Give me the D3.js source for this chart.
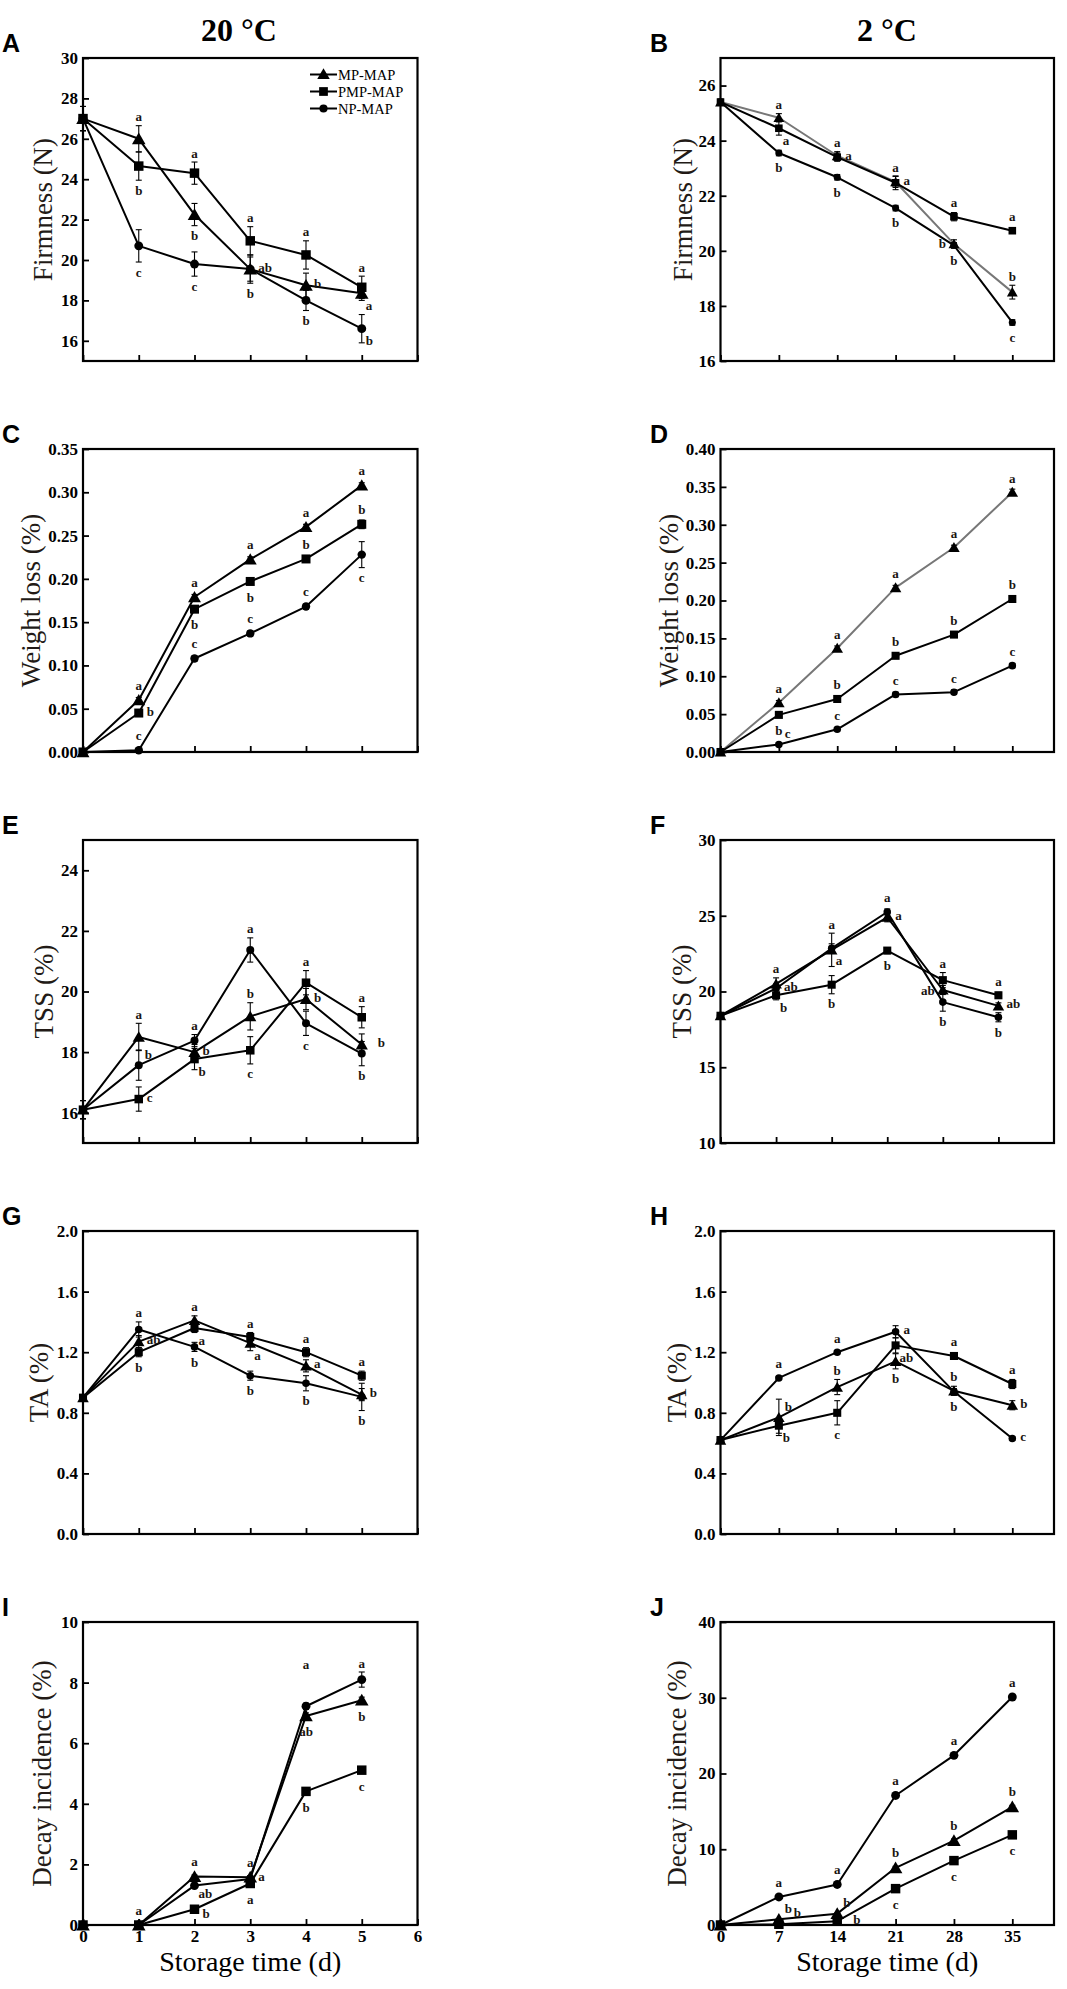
<!DOCTYPE html>
<html>
<head>
<meta charset="utf-8">
<script src="https://cdn.jsdelivr.net/npm/d3@7"></script>
<style>
body { margin: 0; background: #fff; }
svg { display: block; }
</style>
</head>
<body>
<script>
// ---------- DATA ----------
var seriesNames = ["MP-MAP", "PMP-MAP", "NP-MAP"];
var days20 = [0, 1, 2, 3, 4, 5];
var days2 = [0, 7, 14, 21, 28, 35];

// A firmness 20 C
var firm20MP  = [27.0, 26.0, 22.25, 19.55, 18.75, 18.35];
var firm20PMP = [27.0, 24.65, 24.3, 20.95, 20.25, 18.65];
var firm20NP  = [27.0, 20.7, 19.8, 19.55, 18.0, 16.6];
var firm20Err = [[0.6, 0.65, 0.55, 0.6, 0.6, 0.35], [0.6, 0.7, 0.55, 0.7, 0.7, 0.55], [0.6, 0.8, 0.6, 0.7, 0.5, 0.7]];
var firm20Sig = [["", "a", "b", "ab", "b", "a"], ["", "b", "a", "a", "a", "a"], ["", "c", "c", "b", "b", "b"]];

// B firmness 2 C
var firm2MP  = [25.4, 24.83, 23.45, 22.5, 20.25, 18.5];
var firm2PMP = [25.4, 24.45, 23.4, 22.47, 21.24, 20.73];
var firm2NP  = [25.4, 23.55, 22.67, 21.55, 20.2, 17.4];
var firm2Err = [[0.1, 0.15, 0.15, 0.2, 0.15, 0.25], [0.1, 0.25, 0.15, 0.25, 0.15, 0.1], [0.1, 0.1, 0.1, 0.1, 0.1, 0.1]];
var firm2Sig = [["", "a", "a", "a", "b", "b"], ["", "a", "a", "a", "a", "a"], ["", "b", "b", "b", "b", "c"]];

// C weight loss 20 C
var wl20MP  = [0, 0.06, 0.179, 0.2225, 0.26, 0.308];
var wl20PMP = [0, 0.045, 0.165, 0.197, 0.223, 0.263];
var wl20NP  = [0, 0.002, 0.108, 0.137, 0.168, 0.228];
var wl20Err = [[0, 0.003, 0.003, 0.003, 0.003, 0.003], [0, 0.003, 0.003, 0.003, 0.003, 0.005], [0, 0.002, 0.003, 0.003, 0.003, 0.015]];
var wl20Sig = [["", "a", "a", "a", "a", "a"], ["", "b", "b", "b", "b", "b"], ["", "c", "c", "c", "c", "c"]];

// D weight loss 2 C
var wl2MP  = [0, 0.065, 0.137, 0.217, 0.27, 0.343];
var wl2PMP = [0, 0.049, 0.07, 0.127, 0.155, 0.202];
var wl2NP  = [0, 0.01, 0.03, 0.076, 0.079, 0.114];
var wl2Err = [[0, 0.003, 0.003, 0.003, 0.003, 0.004], [0, 0.003, 0.003, 0.003, 0.003, 0.003], [0, 0.002, 0.002, 0.003, 0.003, 0.003]];
var wl2Sig = [["", "a", "a", "a", "a", "a"], ["", "b", "b", "b", "b", "b"], ["", "c", "c", "c", "c", "c"]];

// E TSS 20 C
var tss20MP  = [16.1, 18.5, 18.0, 19.18, 19.75, 18.25];
var tss20PMP = [16.1, 16.45, 17.77, 18.06, 20.29, 19.15];
var tss20NP  = [16.1, 17.57, 18.38, 21.37, 18.95, 17.95];
var tss20Err = [[0.3, 0.45, 0.25, 0.45, 0.35, 0.35], [0.3, 0.4, 0.35, 0.45, 0.4, 0.35], [0.3, 0.5, 0.2, 0.4, 0.4, 0.4]];
var tss20Sig = [["", "a", "b", "b", "b", "b"], ["", "c", "b", "c", "a", "a"], ["", "b", "a", "a", "c", "b"]];

// F TSS 2 C
var tss2MP  = [18.4, 20.5, 22.75, 24.9, 20.1, 19.05];
var tss2PMP = [18.4, 19.75, 20.45, 22.7, 20.75, 19.75];
var tss2NP  = [18.4, 20.2, 22.85, 25.25, 19.3, 18.3];
var tss2Err = [[0.15, 0.4, 1.1, 0.3, 0.3, 0.2], [0.15, 0.3, 0.6, 0.2, 0.5, 0.2], [0.15, 0.3, 0.3, 0.2, 0.6, 0.3]];
var tss2Sig = [["", "a", "a", "a", "ab", "ab"], ["", "b", "b", "b", "a", "a"], ["", "ab", "a", "a", "b", "b"]];

// G TA 20 C
var ta20MP  = [0.9, 1.27, 1.41, 1.26, 1.11, 0.92];
var ta20PMP = [0.9, 1.2, 1.36, 1.3, 1.2, 1.045];
var ta20NP  = [0.9, 1.35, 1.235, 1.045, 0.995, 0.905];
var ta20Err = [[0.02, 0.04, 0.03, 0.05, 0.04, 0.04], [0.02, 0.03, 0.03, 0.03, 0.03, 0.03], [0.02, 0.05, 0.03, 0.03, 0.05, 0.09]];
var ta20Sig = [["", "ab", "a", "a", "a", "b"], ["", "b", "a", "a", "a", "a"], ["", "a", "b", "b", "b", "b"]];

// H TA 2 C
var ta2MP  = [0.62, 0.77, 0.97, 1.14, 0.945, 0.85];
var ta2PMP = [0.62, 0.715, 0.8, 1.245, 1.175, 0.99];
var ta2NP  = [0.62, 1.03, 1.2, 1.335, 0.94, 0.63];
var ta2Err = [[0.02, 0.12, 0.05, 0.05, 0.03, 0.03], [0.02, 0.05, 0.08, 0.05, 0.02, 0.03], [0.02, 0.01, 0.01, 0.04, 0.02, 0.01]];
var ta2Sig = [["", "b", "b", "b", "b", "b"], ["", "b", "c", "ab", "a", "a"], ["", "a", "a", "a", "b", "c"]];

// I decay 20 C
var dec20MP  = [0, 0, 1.6, 1.58, 6.9, 7.42];
var dec20PMP = [0, 0, 0.52, 1.37, 4.41, 5.11];
var dec20NP  = [0, 0, 1.3, 1.52, 7.22, 8.1];
var dec20Err = [[0, 0, 0.05, 0.05, 0.1, 0.1], [0, 0, 0.05, 0.05, 0.1, 0.1], [0, 0, 0.05, 0.05, 0.1, 0.25]];
var dec20Sig = [["", "a", "a", "a", "ab", "b"], ["", "", "b", "a", "b", "c"], ["", "", "ab", "a", "a", "a"]];

// J decay 2 C
var dec2MP  = [0, 0.75, 1.5, 7.55, 11.15, 15.6];
var dec2PMP = [0, 0.1, 0.5, 4.8, 8.5, 11.9];
var dec2NP  = [0, 3.7, 5.35, 17.1, 22.4, 30.1];
var dec2Err = [[0, 0.1, 0.1, 0.2, 0.2, 0.2], [0, 0.1, 0.1, 0.2, 0.2, 0.2], [0, 0.2, 0.2, 0.2, 0.2, 0.3]];
var dec2Sig = [["", "b", "b", "b", "b", "b"], ["", "b", "b", "c", "c", "c"], ["", "a", "a", "a", "a", "a"]];

// tick labels
var ticksFirm20 = [16, 18, 20, 22, 24, 26, 28, 30];
var ticksFirm2 = [16, 18, 20, 22, 24, 26];
var ticksWl20 = [0, 0.05, 0.10, 0.15, 0.20, 0.25, 0.30, 0.35];
var ticksWl2 = [0, 0.05, 0.10, 0.15, 0.20, 0.25, 0.30, 0.35, 0.40];
var ticksTss20 = [16, 18, 20, 22, 24];
var ticksTss2 = [10, 15, 20, 25, 30];
var ticksTa = [0, 0.4, 0.8, 1.2, 1.6, 2.0];
var ticksDec20 = [0, 2, 4, 6, 8, 10];
var ticksDec2 = [0, 10, 20, 30, 40];
var xTicks20 = [0, 1, 2, 3, 4, 5, 6];
var xTicks2 = [0, 7, 14, 21, 28, 35];

// ---------- LAYOUT ----------
var W = 1067, H = 1989;
var colX = [[83, 417.5], [720.5, 1054]];
var rowTop0 = 58, rowStep = 391, panelH = 303;

// where each significance letter sits next to its point
var placeA = [["", "u", "d", "r", "r", "dr"], ["", "d", "u", "u", "u", "u"], ["", "d", "d", "d", "d", "dr"]];
var placeB = [["", "u", "u", "u", "l", "u"], ["", "dr", "r", "r", "u", "u"], ["", "d", "d", "d", "d", "d"]];
var placeC = [["", "u", "u", "u", "u", "u"], ["", "r", "d", "d", "u", "u"], ["", "u", "u", "u", "u", "d"]];
var placeD = [["", "u", "u", "u", "u", "u"], ["", "d", "u", "u", "u", "u"], ["", "ur", "u", "u", "u", "u"]];
var placeE = [["", "u", "r", "u", "r", "rr"], ["", "r", "dr", "d", "u", "u"], ["", "ur", "u", "u", "d", "d"]];
var placeF = [["", "u", "u", "r", "l", "r"], ["", "dr", "d", "d", "u", "u"], ["", "r", "dr", "u", "d", "d"]];
var placeG = [["", "r", "u", "dr", "r", "r"], ["", "d", "dr", "u", "u", "u"], ["", "u", "d", "d", "d", "d"]];
var placeH = [["", "ur", "u", "d", "u", "r"], ["", "dr", "d", "dr", "u", "u"], ["", "u", "u", "r", "d", "r"]];
var placeI = [["", "u", "u", "u", "d", "d"], ["", "", "rd", "d", "d", "d"], ["", "", "rs", "r", "uu", "u"]];
var placeJ = [["", "ur", "ur", "u", "u", "u"], ["", "urr", "rr", "d", "d", "d"], ["", "u", "u", "u", "u", "u"]];

var panels = [
  { id: "A", col: 0, row: 0, xs: days20, xDom: [0, 6], xTicks: xTicks20, yDom: [15, 30], yTicks: ticksFirm20, fmt: d3.format("d"),
    ylab: "Firmness (N)", labX: 43, vals: [firm20MP, firm20PMP, firm20NP], err: firm20Err, sig: firm20Sig, place: placeA, ms: 1, legend: true },
  { id: "B", col: 1, row: 0, xs: days2, xDom: [0, 40], xTicks: xTicks2, yDom: [16, 27], yTicks: ticksFirm2, fmt: d3.format("d"),
    ylab: "Firmness (N)", labX: 683, vals: [firm2MP, firm2PMP, firm2NP], err: firm2Err, sig: firm2Sig, place: placeB, ms: 0.8, grayMP: true },
  { id: "C", col: 0, row: 1, xs: days20, xDom: [0, 6], xTicks: xTicks20, yDom: [0, 0.35], yTicks: ticksWl20, fmt: d3.format(".2f"),
    ylab: "Weight loss (%)", labX: 31, vals: [wl20MP, wl20PMP, wl20NP], err: wl20Err, sig: wl20Sig, place: placeC, ms: 0.95 },
  { id: "D", col: 1, row: 1, xs: days2, xDom: [0, 40], xTicks: xTicks2, yDom: [0, 0.40], yTicks: ticksWl2, fmt: d3.format(".2f"),
    ylab: "Weight loss (%)", labX: 669, vals: [wl2MP, wl2PMP, wl2NP], err: wl2Err, sig: wl2Sig, place: placeD, ms: 0.85, grayMP: true },
  { id: "E", col: 0, row: 2, xs: days20, xDom: [0, 6], xTicks: xTicks20, yDom: [15, 25], yTicks: ticksTss20, fmt: d3.format("d"),
    ylab: "TSS (%)", labX: 44, vals: [tss20MP, tss20PMP, tss20NP], err: tss20Err, sig: tss20Sig, place: placeE, ms: 0.9 },
  { id: "F", col: 1, row: 2, xs: days2, xDom: [0, 42], xTicks: xTicks2, yDom: [10, 30], yTicks: ticksTss2, fmt: d3.format("d"),
    ylab: "TSS (%)", labX: 682, vals: [tss2MP, tss2PMP, tss2NP], err: tss2Err, sig: tss2Sig, place: placeF, ms: 0.85 },
  { id: "G", col: 0, row: 3, xs: days20, xDom: [0, 6], xTicks: xTicks20, yDom: [0, 2], yTicks: ticksTa, fmt: d3.format(".1f"),
    ylab: "TA (%)", labX: 39, vals: [ta20MP, ta20PMP, ta20NP], err: ta20Err, sig: ta20Sig, place: placeG, ms: 0.85 },
  { id: "H", col: 1, row: 3, xs: days2, xDom: [0, 40], xTicks: xTicks2, yDom: [0, 2], yTicks: ticksTa, fmt: d3.format(".1f"),
    ylab: "TA (%)", labX: 677, vals: [ta2MP, ta2PMP, ta2NP], err: ta2Err, sig: ta2Sig, place: placeH, ms: 0.85 },
  { id: "I", col: 0, row: 4, xs: days20, xDom: [0, 6], xTicks: xTicks20, yDom: [0, 10], yTicks: ticksDec20, fmt: d3.format("d"),
    ylab: "Decay incidence (%)", labX: 42, vals: [dec20MP, dec20PMP, dec20NP], err: dec20Err, sig: dec20Sig, place: placeI, ms: 1, xLabels: true },
  { id: "J", col: 1, row: 4, xs: days2, xDom: [0, 40], xTicks: xTicks2, yDom: [0, 40], yTicks: ticksDec2, fmt: d3.format("d"),
    ylab: "Decay incidence (%)", labX: 677, vals: [dec2MP, dec2PMP, dec2NP], err: dec2Err, sig: dec2Sig, place: placeJ, ms: 1, xLabels: true }
];

var serif = "'Liberation Serif', 'Times New Roman', serif";
var sans = "'Liberation Sans', Arial, sans-serif";
var symTypes = [d3.symbolTriangle, d3.symbolSquare, d3.symbolCircle];
var symSizes = [80, 90, 62];

var svg = d3.select("body").append("svg")
  .attr("width", W)
  .attr("height", H)
  .style("background", "#fff");

// column titles
svg.append("text").attr("x", 239).attr("y", 41).attr("text-anchor", "middle")
  .style("font-family", serif).style("font-weight", "bold").style("font-size", "32px").text("20 \u00B0C");
svg.append("text").attr("x", 887).attr("y", 41).attr("text-anchor", "middle")
  .style("font-family", serif).style("font-weight", "bold").style("font-size", "32px").text("2 \u00B0C");

panels.forEach(function (p) {
  var x0 = colX[p.col][0], x1 = colX[p.col][1];
  var top = rowTop0 + rowStep * p.row, bot = top + panelH;
  var x = d3.scaleLinear().domain(p.xDom).range([x0, x1]);
  var y = d3.scaleLinear().domain(p.yDom).range([bot, top]);
  var g = svg.append("g");

  // panel letter
  g.append("text").attr("x", p.col === 0 ? 2 : 650).attr("y", top - 6)
    .style("font-family", sans).style("font-weight", "bold").style("font-size", "25px").text(p.id);

  // y axis, ticks inward
  var ya = g.append("g").attr("transform", "translate(" + x0 + ",0)")
    .call(d3.axisLeft(y).tickValues(p.yTicks).tickFormat(p.fmt).tickSize(-6).tickPadding(5));
  // x axis, ticks inward
  var xa = g.append("g").attr("transform", "translate(0," + bot + ")")
    .call(d3.axisBottom(x).tickValues(p.xTicks).tickSize(-6).tickPadding(5)
      .tickFormat(p.xLabels ? d3.format("d") : function () { return ""; }));
  [ya, xa].forEach(function (a) {
    a.select(".domain").remove();
    a.selectAll("line").attr("stroke", "#000").attr("stroke-width", 1.8);
    a.selectAll("text").style("font-family", serif).style("font-weight", "bold")
      .style("font-size", "17px").attr("fill", "#000");
  });

  // frame
  g.append("rect").attr("x", x0).attr("y", top).attr("width", x1 - x0).attr("height", bot - top)
    .attr("fill", "none").attr("stroke", "#000").attr("stroke-width", 2.2);

  // y label
  g.append("text")
    .attr("transform", "translate(" + p.labX + "," + (top + panelH / 2) + ") rotate(-90)")
    .attr("text-anchor", "middle").attr("dy", "0.35em")
    .style("font-family", serif).style("font-size", "27px").attr("fill", "#221a16")
    .text(p.ylab);

  if (p.xLabels) {
    g.append("text").attr("x", (x0 + x1) / 2).attr("y", bot + 46)
      .attr("text-anchor", "middle")
      .style("font-family", serif).style("font-size", "28px").text("Storage time (d)");
  }

  var line = d3.line().x(function (d) { return x(d[0]); }).y(function (d) { return y(d[1]); });

  // lines
  p.vals.forEach(function (vals, si) {
    var pts = p.xs.map(function (d, i) { return [d, vals[i]]; });
    g.append("path").attr("d", line(pts)).attr("fill", "none")
      .attr("stroke", (si === 0 && p.grayMP) ? "#777" : "#000")
      .attr("stroke-width", 2).attr("stroke-linejoin", "round");
  });

  // error bars
  p.vals.forEach(function (vals, si) {
    p.xs.forEach(function (d, i) {
      var e = p.err[si][i];
      if (!e) return;
      var cx = x(d), ya1 = y(vals[i] + e), ya2 = y(vals[i] - e);
      g.append("line").attr("x1", cx).attr("x2", cx).attr("y1", ya1).attr("y2", ya2)
        .attr("stroke", "#000").attr("stroke-width", 1.1);
      [ya1, ya2].forEach(function (yy) {
        g.append("line").attr("x1", cx - 3).attr("x2", cx + 3).attr("y1", yy).attr("y2", yy)
          .attr("stroke", "#000").attr("stroke-width", 1.1);
      });
    });
  });

  // markers
  p.vals.forEach(function (vals, si) {
    var sym = d3.symbol().type(symTypes[si]).size(symSizes[si] * p.ms * p.ms);
    p.xs.forEach(function (d, i) {
      var dy = si === 0 ? 1.5 * p.ms : 0;
      g.append("path").attr("d", sym())
        .attr("transform", "translate(" + x(d) + "," + (y(vals[i]) + dy) + ")")
        .attr("fill", "#000");
    });
  });

  // significance letters
  var r = 6 * p.ms;
  p.vals.forEach(function (vals, si) {
    p.xs.forEach(function (d, i) {
      var s = p.sig[si][i], pl = p.place[si][i];
      if (!s || !pl) return;
      var e = p.err[si][i] || 0;
      var cx = x(d), cy = y(vals[i]);
      var yTop = Math.min(y(vals[i] + e), cy - r), yBot = Math.max(y(vals[i] - e), cy + r);
      var tx = cx, ty = cy, anchor = "middle";
      if (pl === "u") { ty = yTop - 9; }
      else if (pl === "uu") { ty = cy - 42; }
      else if (pl === "d") { ty = yBot + 10; }
      else if (pl === "r") { tx = cx + 8; ty = cy - 2; anchor = "start"; }
      else if (pl === "rd") { tx = cx + 8; ty = cy + 4; anchor = "start"; }
      else if (pl === "rs") { tx = cx + 4; ty = cy + 8; anchor = "start"; }
      else if (pl === "rr") { tx = cx + 16; ty = cy - 2; anchor = "start"; }
      else if (pl === "l") { tx = cx - 8; ty = cy; anchor = "end"; }
      else if (pl === "dr") { tx = cx + 4; ty = cy + 12; anchor = "start"; }
      else if (pl === "ur") { tx = cx + 6; ty = cy - 11; anchor = "start"; }
      else if (pl === "urr") { tx = cx + 15; ty = cy - 12; anchor = "start"; }
      g.append("text").attr("x", tx).attr("y", ty).attr("dy", "0.35em")
        .attr("text-anchor", anchor)
        .style("font-family", serif).style("font-weight", "bold").style("font-size", "13px")
        .attr("fill", "#1a1410").text(s);
    });
  });

  // legend
  if (p.legend) {
    seriesNames.forEach(function (nm, si) {
      var ly = 74.5 + 17 * si;
      g.append("line").attr("x1", 310).attr("x2", 337).attr("y1", ly).attr("y2", ly)
        .attr("stroke", "#000").attr("stroke-width", 2);
      g.append("path").attr("d", d3.symbol().type(symTypes[si]).size(symSizes[si] * 0.85)())
        .attr("transform", "translate(323.5," + (ly + (si === 0 ? 1 : 0)) + ")").attr("fill", "#000");
      g.append("text").attr("x", 338).attr("y", ly).attr("dy", "0.35em")
        .style("font-family", serif).style("font-size", "14.5px").text(nm);
    });
  }
});
</script>
</body>
</html>
